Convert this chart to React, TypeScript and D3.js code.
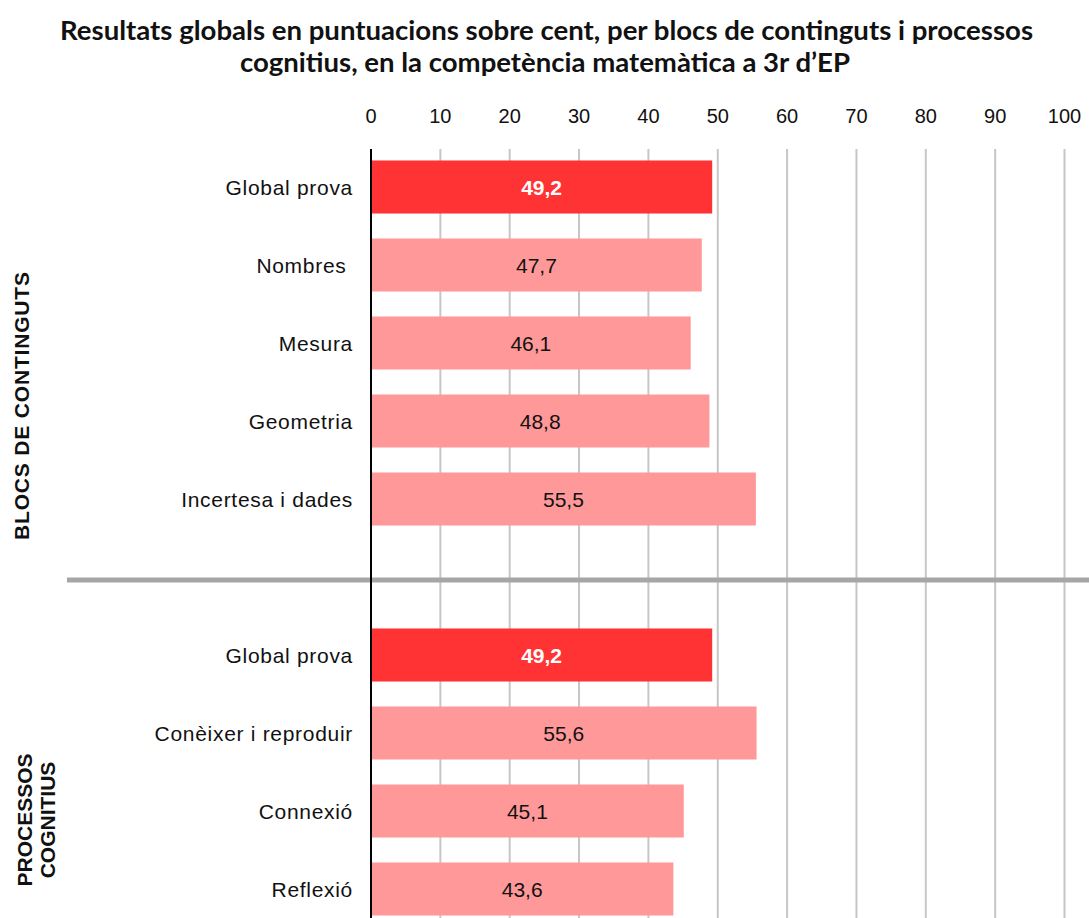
import React from "react";
import * as d3 from "d3";

const titleLines = [
  "Resultats globals en puntuacions sobre cent, per blocs de continguts i processos",
  "cognitius, en la competència matemàtica a 3r d’EP",
];
const categories = [
  "Global prova",
  "Nombres ",
  "Mesura",
  "Geometria",
  "Incertesa i dades",
  "",
  "Global prova",
  "Conèixer i reproduir",
  "Connexió",
  "Reflexió",
];
const values: (number | null)[] = [49.2, 47.7, 46.1, 48.8, 55.5, null, 49.2, 55.6, 45.1, 43.6];
const isGlobal = [true, false, false, false, false, false, true, false, false, false];
const ticks = [0, 10, 20, 30, 40, 50, 60, 70, 80, 90, 100];
const groupLabels = [
  { lines: ["BLOCS DE CONTINGUTS"], from: 0, to: 4 },
  { lines: ["PROCESSOS", "COGNITIUS"], from: 6, to: 9 },
];

const W = 1089;
const H = 918;

export default function App() {
  const x = d3.scaleLinear().domain([0, 100]).range([371, 1064.5]);
  const y = d3
    .scaleBand<number>()
    .domain(categories.map((_, i) => i))
    .range([148, 928])
    .paddingInner(0.32)
    .paddingOuter(0.16);
  const fmt = (v: number) => v.toFixed(1).replace(".", ",");
  const sans = "'Liberation Sans', Arial, sans-serif";

  return (
    <svg
      width={W}
      height={H}
      style={{ position: "absolute", left: 0, top: 0, background: "#fff" }}
      fontFamily={sans}
    >
      <rect width={W} height={H} fill="#fff" />
      {/* title */}
      <text
        x={546.5}
        y={40}
        textAnchor="middle"
        fontFamily="Lato, 'Open Sans', sans-serif"
        fontWeight={700}
        fontSize={26}
        textLength={973}
        lengthAdjust="spacingAndGlyphs"
        fill="#111"
      >
        {titleLines[0]}
      </text>
      <text
        x={545}
        y={72}
        textAnchor="middle"
        fontFamily="Lato, 'Open Sans', sans-serif"
        fontWeight={700}
        fontSize={26}
        textLength={610}
        lengthAdjust="spacingAndGlyphs"
        fill="#111"
      >
        {titleLines[1]}
      </text>

      {/* tick labels */}
      {ticks.map((t) => (
        <text key={"t" + t} x={x(t)} y={123} textAnchor="middle" fontSize={20} fill="#111">
          {t}
        </text>
      ))}

      {/* gridlines */}
      {ticks
        .filter((t) => t > 0)
        .map((t) => (
          <line key={"g" + t} x1={x(t)} x2={x(t)} y1={149} y2={H} stroke="#c6c6c6" strokeWidth={2} />
        ))}

      {/* bars */}
      {values.map((v, i) =>
        v == null ? null : (
          <g key={"b" + i}>
            <rect
              x={x(0)}
              y={y(i)!}
              width={x(v) - x(0)}
              height={y.bandwidth()}
              fill={isGlobal[i] ? "#ff3333" : "#ff9999"}
            />
            <text
              x={(x(0) + x(v)) / 2}
              y={y(i)! + y.bandwidth() / 2 + 7.5}
              textAnchor="middle"
              fontSize={21}
              fontWeight={isGlobal[i] ? 700 : 400}
              fill={isGlobal[i] ? "#fff" : "#111"}
            >
              {fmt(v)}
            </text>
          </g>
        )
      )}

      {/* category labels */}
      {categories.map((c, i) =>
        c ? (
          <text
            key={"c" + i}
            x={353}
            y={y(i)! + y.bandwidth() / 2 + 7.5}
            textAnchor="end"
            fontSize={21}
            letterSpacing={0.7}
            fill="#111"
            style={{ whiteSpace: "pre" }}
          >
            {c}
          </text>
        ) : null
      )}

      {/* separator */}
      <line x1={67} x2={W} y1={580} y2={580} stroke="#a6a6a6" strokeWidth={5} />

      {/* axis line */}
      <line x1={x(0)} x2={x(0)} y1={149} y2={H} stroke="#000" strokeWidth={2} />

      {/* group labels */}
      {groupLabels.map((g, gi) => {
        const n = g.lines.length;
        return g.lines.map((ln, li) => {
          const bx = n === 1 ? 29 : 32 + li * 23;
          return (
            <text
              key={"gl" + gi + li}
              transform={`translate(${bx},${n === 1 ? 406 : 820}) rotate(-90)`}
              textAnchor="middle"
              fontSize={21}
              fontWeight={700}
              fill="#111"
              textLength={n === 1 ? 268 : undefined}
              lengthAdjust="spacing"
            >
              {ln}
            </text>
          );
        });
      })}
    </svg>
  );
}
